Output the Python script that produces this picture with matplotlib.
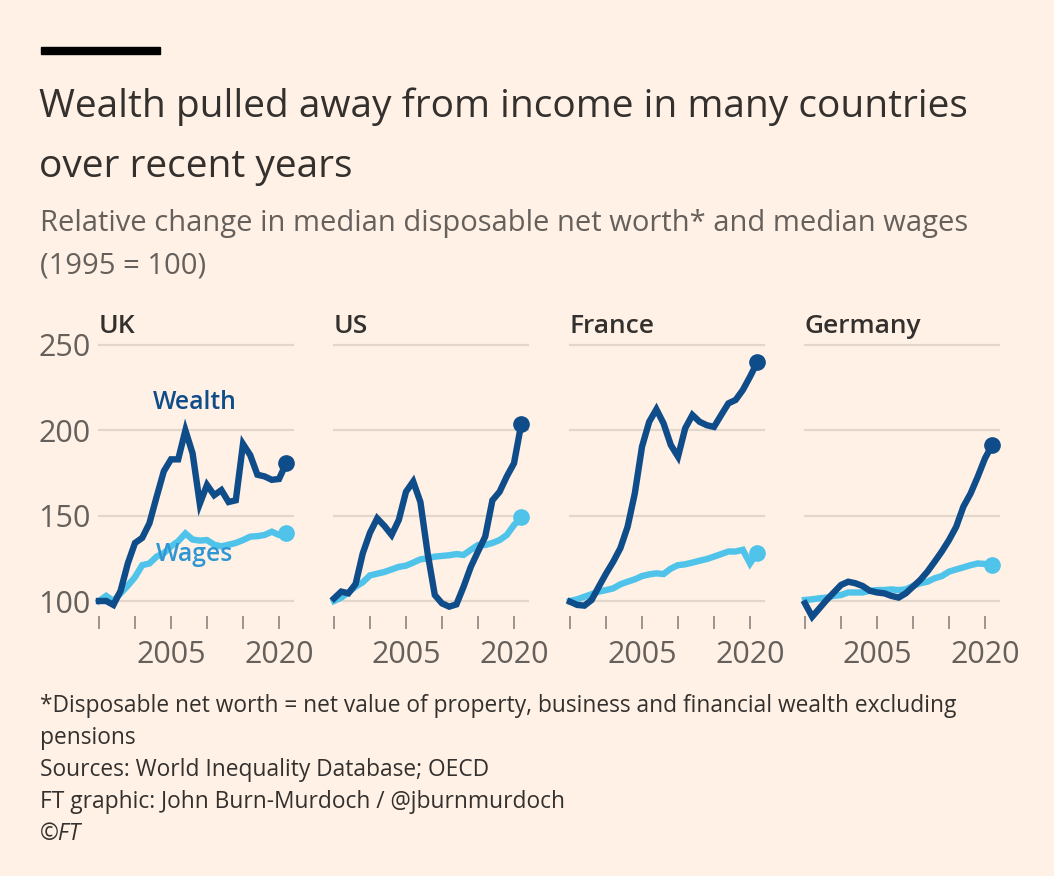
import matplotlib
matplotlib.use("Agg")
import matplotlib.pyplot as plt
from matplotlib.patches import Rectangle
import numpy as np

# Data (1995 = 100), annual 1995-2021
years = list(range(1995, 2022))
countries = ["UK", "US", "France", "Germany"]

uk_wealth = [100, 100, 97.7, 106, 122, 134, 137, 145.5, 161, 176, 183, 183, 200, 186.5,
             157, 168, 162, 165, 158, 159, 192, 185.5, 174, 173, 171, 171.5, 180.7]
uk_wages = [100, 103, 100, 104.5, 109, 114, 121, 122, 126, 128, 132, 135, 139.6, 136,
            135.4, 135.7, 133, 132, 133, 134, 135.7, 137.7, 138, 138.7, 140.6, 138.7, 139.6]

us_wealth = [101.5, 105.5, 104.5, 110, 128, 140, 148.4, 144, 138.7, 147.5, 164, 170, 158, 128,
             103.5, 98.6, 96.7, 98, 108.4, 120, 129, 137.7, 159, 164, 173, 180.7, 203.5]
us_wages = [100, 102, 105, 108.4, 111, 115, 116, 117, 118.5, 120, 120.7, 122.5, 124.4, 125,
            126, 126.4, 126.8, 127.5, 127, 130, 132.8, 132.8, 134, 135.7, 138.7, 144.5, 149]

fr_wealth = [99.6, 97.7, 97.3, 100.6, 108.4, 116, 123, 131, 143.5, 163, 190.4, 205, 212.3, 204,
             191.4, 184.6, 201.2, 209, 205, 203, 202, 209, 215.8, 217.8, 223.6, 231.4, 239.8]
fr_wages = [100, 101, 102.5, 104, 105.5, 106.4, 107.4, 109.8, 111.3, 112.7, 114.6, 115.6, 116.2, 115.8,
            119, 121, 121.5, 122.5, 123.6, 124.6, 126, 127.5, 129, 129, 130, 122, 128.3]

de_wealth = [98.6, 90.8, 95.7, 100.6, 105, 109.4, 111.3, 110.4, 108.8, 106, 105, 104.5, 103, 102,
             104.5, 108.4, 112.3, 117.2, 123, 129, 135.7, 143.5, 155.3, 163, 172.9, 183.6, 191.4]
de_wages = [100.6, 101, 101.6, 102, 103, 103.5, 105, 105, 105, 106, 106.4, 106.4, 106.8, 106.4,
            106.8, 108.8, 110.4, 111.3, 113.3, 114.6, 117.2, 118.5, 119.7, 121, 122, 121.7, 121]

wealth = [uk_wealth, us_wealth, fr_wealth, de_wealth]
wages = [uk_wages, us_wages, fr_wages, de_wages]

y_ticks = [100, 150, 200, 250]
x_ticks = [1995, 2000, 2005, 2010, 2015, 2020]
x_labels = ["", "", "2005", "", "", "2020"]

# colours
BG = "#FFF1E5"
WEALTH = "#0F4C8A"
WAGES = "#4FC3EA"
WAGES_TXT = "#2E96D3"
TEXT = "#33302E"
SUBTXT = "#66605C"
GRID = "#E3D6CA"
TICK = "#958D86"

plt.rcParams['font.family'] = ['Open Sans', 'DejaVu Sans']

W, H = 1054, 876
fig = plt.figure(figsize=(W / 100, H / 100), dpi=100, facecolor=BG)


def fx(x):
    return x / W


def fy(y):
    return 1 - y / H


# black bar on top
fig.add_artist(Rectangle((fx(41), fy(54)), fx(119), 7 / H, color="black",
                         transform=fig.transFigure))

fig.text(fx(39), fy(117), "Wealth pulled away from income in many countries",
         fontsize=28, color=TEXT, va="baseline")
fig.text(fx(39), fy(177), "over recent years", fontsize=28, color=TEXT, va="baseline")
fig.text(fx(40), fy(231), "Relative change in median disposable net worth* and median wages",
         fontsize=21, color=SUBTXT, va="baseline")
fig.text(fx(40), fy(273), "(1995 = 100)", fontsize=21, color=SUBTXT, va="baseline")

lefts = [99, 334, 570, 805]
ax_w = 194
ax_top, ax_bot = 345, 616

for i, name in enumerate(countries):
    ax = fig.add_axes([fx(lefts[i]), fy(ax_bot), fx(ax_w), (ax_bot - ax_top) / H])
    ax.set_facecolor(BG)
    ax.set_xlim(1995, 1995 + ax_w / 7.2)
    ax.set_ylim(100 - (ax_bot - 601) / 1.707, 250)
    for s in ax.spines.values():
        s.set_visible(False)
    for v in y_ticks:
        ax.axhline(v, color=GRID, lw=1.6, zorder=0, clip_on=False)

    ax.plot(years, wages[i], color=WAGES, lw=4.6, solid_joinstyle="miter", clip_on=False, zorder=2)
    ax.plot(years[-1], wages[i][-1], "o", color=WAGES, ms=11, clip_on=False, zorder=2)
    ax.plot(years, wealth[i], color=WEALTH, lw=4.6, solid_joinstyle="miter", clip_on=False, zorder=3)
    ax.plot(years[-1], wealth[i][-1], "o", color=WEALTH, ms=11, clip_on=False, zorder=3)

    ax.set_xticks(x_ticks)
    ax.set_xticklabels(x_labels)
    ax.tick_params(axis="x", length=9, width=1.3, color=TICK, labelsize=22,
                   labelcolor=SUBTXT, pad=8)
    ax.set_yticks(y_ticks)
    if i == 0:
        ax.set_yticklabels([str(v) for v in y_ticks])
        ax.tick_params(axis="y", length=0, labelsize=22, labelcolor=SUBTXT, pad=6)
        ax.text(2008.3, 216.6, "Wealth", color=WEALTH, fontsize=17.8, fontweight="semibold",
                ha="center", va="center")
        ax.text(2008.3, 127, "Wages", color=WAGES_TXT, fontsize=17.8, fontweight="semibold",
                ha="center", va="center")
    else:
        ax.set_yticklabels([])
        ax.tick_params(axis="y", length=0)

    fig.text(fx(lefts[i]), fy(333), name, fontsize=19, fontweight="semibold", color=TEXT,
             va="baseline")

footer = ["*Disposable net worth = net value of property, business and financial wealth excluding",
          "pensions",
          "Sources: World Inequality Database; OECD",
          "FT graphic: John Burn-Murdoch / @jburnmurdoch"]
for k, line in enumerate(footer):
    fig.text(fx(40), fy(712 + 32 * k), line, fontsize=16.4, color=TEXT, va="baseline")
fig.text(fx(40), fy(840), "©FT", fontsize=16.4, color=TEXT, va="baseline", style="italic")

fig.savefig("out.png", dpi=100, facecolor=BG)
